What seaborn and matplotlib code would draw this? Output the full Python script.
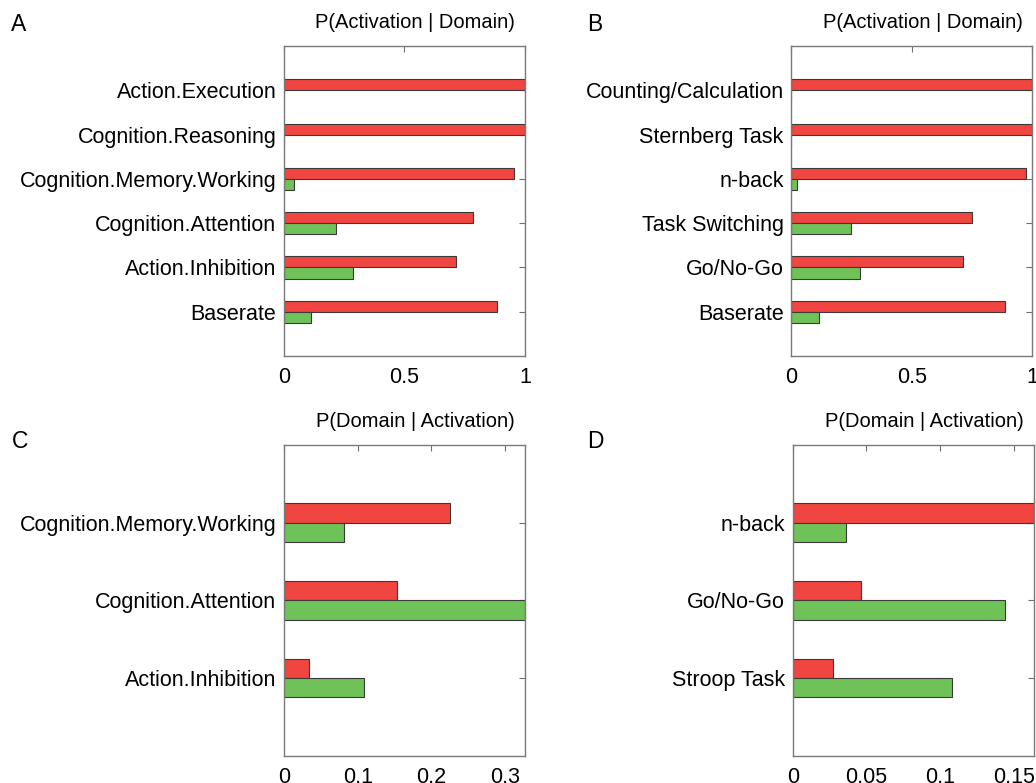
import pandas as pd
import seaborn as sns
import matplotlib.pyplot as plt

# panel A: P(Activation | Domain), behavioural domains
a_labels = ['Action.Execution', 'Cognition.Reasoning', 'Cognition.Memory.Working',
            'Cognition.Attention', 'Action.Inhibition', 'Baserate']
a_red = [1.0, 1.0, 0.956, 0.783, 0.712, 0.885]
a_green = [0.0, 0.0, 0.041, 0.214, 0.285, 0.112]

# panel B: P(Activation | Domain), paradigm classes
b_labels = ['Counting/Calculation', 'Sternberg Task', 'n-back',
            'Task Switching', 'Go/No-Go', 'Baserate']
b_red = [1.0, 1.0, 0.973, 0.750, 0.712, 0.885]
b_green = [0.0, 0.0, 0.022, 0.246, 0.285, 0.113]

# panel C: P(Domain | Activation), behavioural domains
c_labels = ['Cognition.Memory.Working', 'Cognition.Attention', 'Action.Inhibition']
c_red = [0.225, 0.154, 0.034]
c_green = [0.081, 0.327, 0.108]

# panel D: P(Domain | Activation), paradigm classes
d_labels = ['n-back', 'Go/No-Go', 'Stroop Task']
d_red = [0.1635, 0.0466, 0.0274]
d_green = [0.0358, 0.144, 0.108]

series = ['activation', 'no activation']
colors = ['#f04540', '#6fc257']

sns.set_style('white')
plt.rcParams['font.family'] = ['Liberation Sans', 'DejaVu Sans']
plt.rcParams['text.color'] = 'black'
plt.rcParams['xtick.labelcolor'] = 'black'
plt.rcParams['ytick.labelcolor'] = 'black'


def make_df(labels, red, green):
    rows = []
    for lab, r, g in zip(labels, red, green):
        rows.append({'label': lab, 'series': series[0], 'value': r})
        rows.append({'label': lab, 'series': series[1], 'value': g})
    return pd.DataFrame(rows)


fig = plt.figure(figsize=(10.36, 7.83), dpi=100)

panels = [
    ('A', 'P(Activation | Domain)', a_labels, a_red, a_green,
     [0.2741, 0.5453, 0.2326, 0.3959], 1.0, [0, 0.5, 1], ['0', '0.5', '1']),
    ('B', 'P(Activation | Domain)', b_labels, b_red, b_green,
     [0.7638, 0.5453, 0.2326, 0.3959], 1.0, [0, 0.5, 1], ['0', '0.5', '1']),
    ('C', 'P(Domain | Activation)', c_labels, c_red, c_green,
     [0.2741, 0.0349, 0.2326, 0.3968], 0.327, [0, 0.1, 0.2, 0.3], ['0', '0.1', '0.2', '0.3']),
    ('D', 'P(Domain | Activation)', d_labels, d_red, d_green,
     [0.7652, 0.0349, 0.2326, 0.3968], 0.1635, [0, 0.05, 0.1, 0.15], ['0', '0.05', '0.1', '0.15']),
]

letter_pos = {'A': (0.011, 0.969), 'B': (0.567, 0.969), 'C': (0.011, 0.436), 'D': (0.567, 0.436)}

for letter, title, labels, red, green, rect, xmax, xt, xtl in panels:
    ax = fig.add_axes(rect)
    df = make_df(labels, red, green)
    sns.barplot(data=df, y='label', x='value', hue='series', hue_order=series,
                palette=colors, saturation=1, orient='h', width=0.5,
                edgecolor='#3a3a3a', linewidth=0.8, legend=False, ax=ax)
    n = len(labels)
    ax.set_ylim(n, -1)
    ax.set_xlim(0, xmax)
    ax.set_xticks(xt)
    ax.set_xticklabels(xtl)
    ax.set_xlabel('')
    ax.set_ylabel('')
    ax.tick_params(direction='in', top=True, right=True, length=4, width=0.8,
                   color='#6e6e6e', labelsize=15.5, pad=5.5)
    ax.tick_params(axis='x', pad=8)
    for sp in ax.spines.values():
        sp.set_color('#7a7a7a')
        sp.set_linewidth(1.0)
    ax.text(0.545, 1.075, title, transform=ax.transAxes, ha='center', va='center',
            fontsize=14.5)
    fig.text(letter_pos[letter][0], letter_pos[letter][1], letter, fontsize=16.5,
             ha='left', va='center')

fig.savefig('out.png', dpi=100)
